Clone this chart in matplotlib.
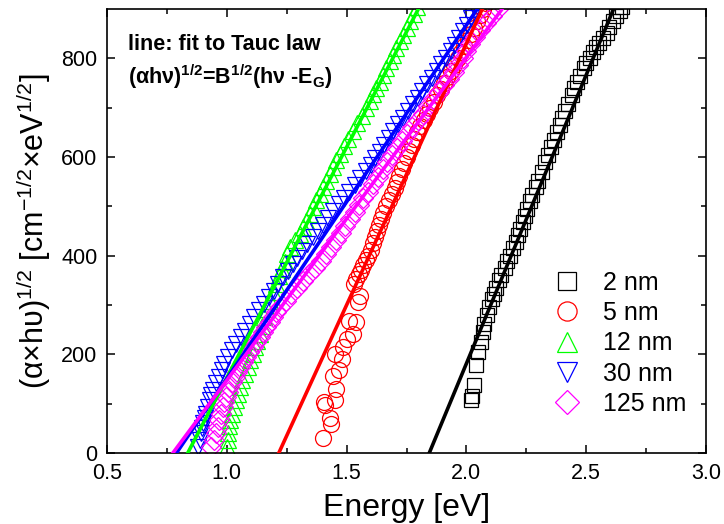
import numpy as np
import matplotlib
matplotlib.use("Agg")
import matplotlib.pyplot as plt

plt.rcParams['font.family'] = ['Liberation Sans', 'DejaVu Sans']
plt.rcParams['mathtext.fontset'] = 'custom'
plt.rcParams['mathtext.rm'] = 'Liberation Sans'
plt.rcParams['mathtext.it'] = 'Liberation Sans:italic'
plt.rcParams['mathtext.bf'] = 'Liberation Sans:bold'

# data: energy [eV] and (alpha*h*nu)^1/2
e_2nm = [2.02, 2.025, 2.03, 2.04, 2.05, 2.06, 2.07, 2.075, 2.085, 2.095, 2.105, 2.115,
         2.125, 2.135, 2.145, 2.16, 2.17, 2.18, 2.195, 2.205, 2.215, 2.225, 2.235, 2.245,
         2.255, 2.265, 2.275, 2.29, 2.30, 2.315, 2.33, 2.34, 2.355, 2.365, 2.38, 2.39,
         2.40, 2.41, 2.425, 2.44, 2.45, 2.46, 2.475, 2.49, 2.50, 2.515, 2.53, 2.54,
         2.555, 2.57, 2.585, 2.595, 2.61, 2.625, 2.64, 2.65]
y_2nm = [107, 115, 137, 178, 205, 225, 245, 262, 280, 295, 312, 322,
         335, 350, 360, 376, 390, 400, 415, 428, 442, 455, 468, 480,
         495, 510, 522, 540, 552, 570, 590, 605, 620, 635, 650, 665,
         680, 693, 708, 725, 740, 752, 765, 780, 790, 800, 812, 822,
         832, 842, 852, 864, 876, 886, 896, 905]

e_5nm = [1.40, 1.436, 1.429, 1.41, 1.404, 1.45, 1.457, 1.443, 1.468, 1.482, 1.45, 1.485,
         1.50, 1.526, 1.54, 1.51, 1.547, 1.555, 1.53, 1.54, 1.55, 1.56, 1.57, 1.58,
         1.59, 1.60, 1.609, 1.618, 1.627, 1.636, 1.645, 1.654, 1.665, 1.677, 1.688, 1.70,
         1.71, 1.72, 1.73, 1.741, 1.75, 1.76, 1.771, 1.782, 1.795, 1.808, 1.821, 1.835,
         1.85, 1.865, 1.879, 1.893, 1.906, 1.92, 1.935, 1.95, 1.964, 1.978, 1.991, 2.005,
         2.018, 2.03, 2.043, 2.055, 2.068, 2.08]
y_5nm = [31, 59, 71, 97, 104, 107, 130, 156, 168, 191, 200, 215,
         232, 241, 265, 268, 307, 318, 343, 352, 362, 370, 382, 392,
         400, 412, 425, 437, 450, 462, 475, 487, 500, 512, 525, 537,
         550, 562, 575, 587, 600, 612, 625, 637, 650, 662, 675, 687,
         700, 712, 725, 737, 750, 762, 775, 787, 800, 812, 825, 837,
         850, 862, 875, 887, 900, 912]

e_12nm = [1.0, 1.003, 1.006, 1.009, 1.013, 1.02, 1.028, 1.038, 1.046, 1.055, 1.065, 1.076,
          1.087, 1.098, 1.108, 1.118, 1.128, 1.137, 1.145, 1.155, 1.167, 1.18, 1.193, 1.207,
          1.218, 1.23, 1.241, 1.252, 1.262, 1.283, 1.304, 1.318, 1.332, 1.346, 1.36, 1.373,
          1.387, 1.401, 1.415, 1.429, 1.443, 1.457, 1.471, 1.489, 1.507, 1.525, 1.544, 1.563,
          1.582, 1.596, 1.61, 1.624, 1.638, 1.652, 1.666, 1.68, 1.694, 1.707, 1.722, 1.737,
          1.751, 1.765, 1.78, 1.795]
y_12nm = [13, 27, 40, 54, 67, 80, 94, 107, 120, 134, 147, 161,
          175, 188, 201, 215, 228, 242, 258, 275, 292, 309, 326, 343,
          358, 373, 388, 403, 417, 431, 444, 458, 471, 485, 498, 512,
          525, 539, 552, 566, 579, 593, 606, 622, 637, 653, 669, 684,
          700, 713, 727, 740, 753, 767, 780, 794, 807, 821, 835, 848,
          862, 876, 890, 904]

e_30nm = [0.88, 0.887, 0.894, 0.897, 0.90, 0.908, 0.915, 0.922, 0.93, 0.936, 0.943, 0.957,
          0.968, 0.98, 0.99, 1.003, 1.022, 1.04, 1.06, 1.078, 1.097, 1.115, 1.135, 1.155,
          1.175, 1.195, 1.215, 1.235, 1.255, 1.275, 1.295, 1.315, 1.335, 1.358, 1.38, 1.40,
          1.422, 1.445, 1.468, 1.49, 1.512, 1.535, 1.557, 1.58, 1.60, 1.62, 1.64, 1.658,
          1.677, 1.695, 1.715, 1.736, 1.756, 1.776, 1.796, 1.816, 1.837, 1.857, 1.877, 1.896,
          1.915, 1.934, 1.952, 1.968, 1.985, 2.002, 2.02, 2.04]
y_30nm = [13, 27, 40, 50, 60, 70, 80, 94, 107, 117, 127, 141,
          155, 168, 181, 195, 208, 221, 235, 248, 262, 275, 289, 302,
          316, 329, 342, 356, 369, 383, 396, 410, 423, 437, 450, 463,
          477, 490, 504, 517, 530, 544, 557, 571, 584, 598, 611, 625,
          639, 653, 666, 680, 693, 707, 720, 734, 747, 761, 774, 788,
          801, 815, 828, 842, 855, 868, 882, 896]

e_125nm = [0.936, 0.948, 0.957, 0.962, 0.968, 0.976, 0.983, 0.99, 0.998, 1.004, 1.01, 1.02,
           1.033, 1.043, 1.054, 1.067, 1.08, 1.094, 1.108, 1.122, 1.137, 1.151, 1.165, 1.179,
           1.193, 1.207, 1.22, 1.245, 1.27, 1.295, 1.32, 1.345, 1.37, 1.393, 1.415, 1.435,
           1.455, 1.475, 1.495, 1.515, 1.535, 1.553, 1.57, 1.59, 1.61, 1.63, 1.65, 1.67,
           1.69, 1.71, 1.73, 1.752, 1.774, 1.796, 1.818, 1.84, 1.862, 1.885, 1.906, 1.927,
           1.948, 1.966, 1.984, 2.0, 2.017, 2.037, 2.058, 2.08, 2.105, 2.13]
y_125nm = [13, 27, 40, 53, 66, 80, 94, 104, 114, 124, 134, 144,
           154, 164, 174, 185, 195, 205, 215, 225, 235, 245, 255, 265,
           275, 286, 296, 309, 322, 335, 349, 362, 376, 390, 404, 418,
           432, 446, 460, 474, 488, 502, 516, 530, 545, 560, 575, 590,
           604, 618, 632, 646, 660, 674, 688, 703, 717, 731, 745, 759,
           773, 787, 801, 815, 829, 843, 857, 871, 885, 899]

labels = ['2 nm', '5 nm', '12 nm', '30 nm', '125 nm']
colors = ['#000000', '#ff0000', '#00ff00', '#0000ff', '#ff00ff']
markers = ['s', 'o', '^', 'v', 'D']
sizes = [10.5, 11.5, 11.5, 11.5, 10]

# Tauc fits: band gap E_G [eV] and slope B^1/2
fit_eg = [1.845, 1.217, 0.837, 0.79, 0.775]
fit_slope = [1170, 1060, 935, 717, 655]

energies = [e_2nm, e_5nm, e_12nm, e_30nm, e_125nm]
values = [y_2nm, y_5nm, y_12nm, y_30nm, y_125nm]

fig = plt.figure(figsize=(7.24, 5.24), dpi=100)
ax = fig.add_axes([107/724, 1 - 453/524, 599/724, 444/524])

for e, v, lab, c, m, s in zip(energies, values, labels, colors, markers, sizes):
    ax.plot(e, v, linestyle='none', marker=m, ms=s, mfc='none', mec=c, mew=0.9, label=lab)

for eg, b, c in zip(fit_eg, fit_slope, colors):
    xs = np.array([eg, eg + 1000.0 / b])
    ax.plot(xs, b * (xs - eg), color=c, lw=2.6, zorder=5)

ax.set_xlim(0.5, 3.0)
ax.set_ylim(0, 900)
ax.set_xticks([0.5, 1.0, 1.5, 2.0, 2.5, 3.0])
ax.set_xticks(np.arange(0.75, 3.0, 0.5), minor=True)
ax.set_yticks([0, 200, 400, 600, 800])
ax.set_yticks([100, 300, 500, 700], minor=True)
ax.tick_params(which='both', direction='in', top=True, right=True, width=1.1)
ax.tick_params(which='major', length=6, labelsize=15.5, pad=7)
ax.tick_params(which='minor', length=3.5)
for sp in ax.spines.values():
    sp.set_linewidth(1.2)

ax.set_xlabel('Energy [eV]', fontsize=23, labelpad=7)
ax.set_ylabel(r'(α×hυ)$^{1/2}$ [cm$^{-1/2}$×eV$^{1/2}$]', fontsize=22, labelpad=6)

ax.text(0.035, 0.919, 'line: fit to Tauc law', transform=ax.transAxes,
        fontsize=15.5, fontweight='bold', va='center', ha='left')
ax.text(0.035, 0.847, r'(αhν)$^{\mathbf{1/2}}$=B$^{\mathbf{1/2}}$(hν -E$_{\mathbf{G}}$)',
        transform=ax.transAxes, fontsize=15.5, fontweight='bold', va='center', ha='left')

ax.legend(loc='upper left', bbox_to_anchor=(0.747, 0.41), frameon=False, fontsize=18,
          handlelength=1.0, handletextpad=0.94, labelspacing=0.25, borderpad=0,
          borderaxespad=0, markerscale=1.2)

fig.savefig('out.png', dpi=100)
